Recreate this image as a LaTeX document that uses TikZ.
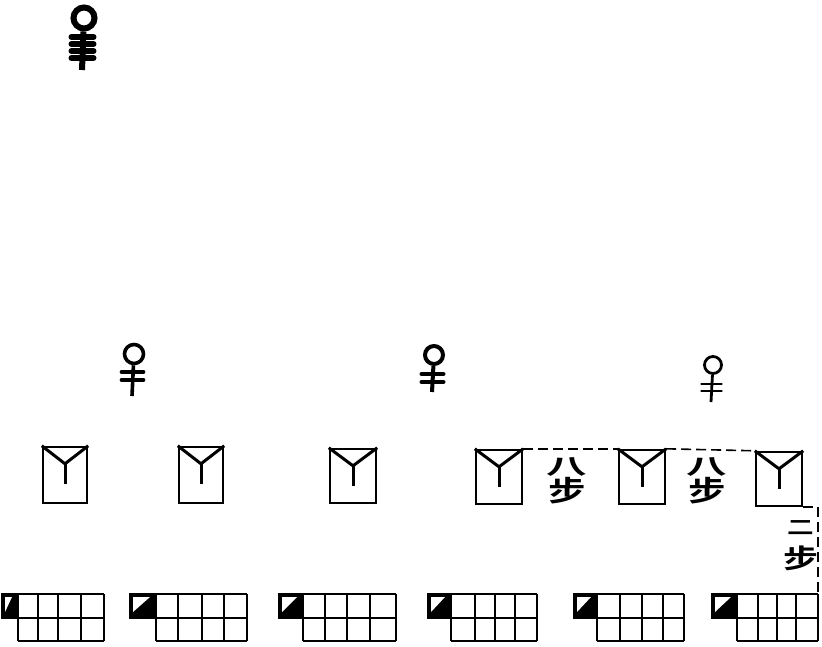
\documentclass[tikz,border=0pt]{standalone}
\usepackage{fontspec}
\usepackage{tikz}
\newfontfamily\cjk{Noto Sans CJK SC}[BoldFont={* Bold}]
\newcommand{\bu}{\fontsize{30}{22}\selectfont\cjk\bfseries}
\newcommand{\ba}{\scalebox{1.35}[.72]{八}}
\newcommand{\er}{\scalebox{.95}[.7]{二}}
\newcommand{\ste}{\scalebox{1.25}[.95]{步}}
% peg: name, x, y, size, stem end, barb half width, barb list, weight
\newcommand{\peg}[8]{%
  \node[pegring, line width=#8pt, minimum size=#4pt] (#1) at (#2,#3) {};
  \coordinate (#1end) at (#2-2,#5);
  \draw[line width=#8pt] (#1) -- (#1end);
  \foreach \b in {#7} {\draw[pegbarb, line width=#8pt] (#2-1.5-#6,\b) -- (#2-1.5+#6,\b);}
}
% tab: name, x0..x5
\newcommand{\tabgrid}[7]{%
  \fill (#2,594) rectangle (#3,618);
  \fill[white] (#2+3,597) -- (#3-6,597) -- (#2+3,612) -- cycle;
  \draw[gridline] (#2,594) rectangle (#3,618);
  \draw[gridline] (#3,594) -- (#7,594) (#3,618) -- (#7,618) (#3,641) -- (#7,641);
  \foreach \c in {#3,#4,#5,#6,#7} {\draw[gridline] (\c,594) -- (\c,641);}
  \coordinate (#1) at (#7,594);
}
\begin{document}
\begin{tikzpicture}[x=1pt, y=-1pt,
  pegring/.style={draw, circle, inner sep=0pt},
  pegbarb/.style={line cap=round},
  slot/.style={draw, line width=2.4pt, inner sep=0pt},
  yline/.style={line width=3pt},
  gridline/.style={line width=2.4pt},
  measure/.style={line width=1.6pt, dash pattern=on 10pt off 5pt},
  count/.style={align=center, inner sep=0pt, font=\bu}
]
\useasboundingbox (0,0) rectangle (822,647);
% markers
\peg{mark1}{84}{18}{21}{70}{11}{37,44,51,58}{6}
\peg{mark2}{134}{354}{19}{396}{11}{372,380}{3.6}
\peg{mark3}{434}{355}{18}{392}{11}{374,382}{4}
\peg{mark4}{713}{365}{17}{402}{10}{384,391}{2.8}
% boxes
\foreach \n/\x/\y/\w/\h in {1/65/475/44/56, 2/201/475/44/56, 3/353/476/46/54,
    4/499/477/46/54, 5/642/477/46/54, 6/779/479/46/54} {
  \node[slot, minimum width=\w pt, minimum height=\h pt] (box\n) at (\x,\y) {};
  \draw[yline] (box\n.north west) -- ([yshift=-18pt]box\n.north) -- (box\n.north east);
  \draw[yline] ([yshift=-18pt]box\n.north) -- ([yshift=-38pt]box\n.north);
}
% tabs
\tabgrid{tab1}{2}{18}{38}{58}{81}{104}
\tabgrid{tab2}{130}{156}{178}{202}{224}{247}
\tabgrid{tab3}{279}{303}{325}{347}{370}{396}
\tabgrid{tab4}{428}{451}{475}{495}{515}{537}
\tabgrid{tab5}{574}{597}{620}{642}{663}{684}
\tabgrid{tab6}{712}{737}{758}{777}{796}{818}
% distances
\draw[measure] (box4.north east) -- (box5.north west);
\draw[measure] (box5.north east) -- (box6.north west);
\draw[measure] (box6.south east) -| (tab6);
\node[count] (dist1) at (567,481) {\ba\\\ste};
\node[count] (dist2) at (707,481) {\ba\\\ste};
\node[count, font=\fontsize{28}{34}\selectfont\cjk\bfseries] (dist3) at (801,546) {\er\\\ste};
\end{tikzpicture}
\end{document}
